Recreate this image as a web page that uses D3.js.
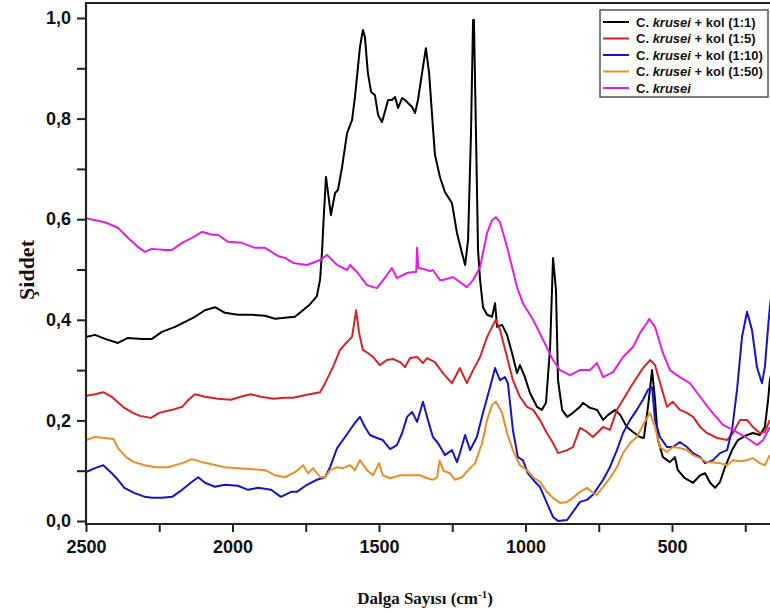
<!DOCTYPE html>
<html>
<head>
<meta charset="utf-8">
<script src="https://cdn.jsdelivr.net/npm/d3@7"></script>
<style>
  html, body { margin: 0; padding: 0; background: #fff; }
  svg { display: block; }
</style>
</head>
<body>
<svg id="chart" width="770" height="612"></svg>
<script>
// FTIR spectra: [wavenumber (cm-1), intensity]
const kol_1_1 = [[2500,0.366],[2469,0.370],[2435,0.362],[2391,0.354],[2357,0.364],[2309,0.362],[2275,0.362],[2241,0.376],[2196,0.386],[2162,0.396],[2128,0.406],[2094,0.419],[2060,0.425],[2026,0.414],[1981,0.410],[1933,0.410],[1889,0.408],[1855,0.402],[1821,0.404],[1787,0.406],[1770,0.414],[1735,0.431],[1712,0.447],[1701,0.48],[1694,0.54],[1689,0.60],[1681,0.684],[1664,0.608],[1650,0.652],[1640,0.658],[1626,0.704],[1609,0.771],[1592,0.797],[1582,0.843],[1565,0.942],[1555,0.976],[1548,0.962],[1538,0.891],[1527,0.853],[1514,0.847],[1503,0.807],[1490,0.793],[1480,0.813],[1469,0.837],[1456,0.837],[1445,0.843],[1435,0.821],[1421,0.841],[1411,0.837],[1401,0.831],[1387,0.823],[1377,0.811],[1367,0.837],[1353,0.891],[1340,0.940],[1329,0.891],[1316,0.783],[1309,0.728],[1292,0.684],[1275,0.654],[1251,0.632],[1234,0.573],[1217,0.533],[1206,0.509],[1196,0.559],[1186,0.771],[1179,0.996],[1176,0.996],[1169,0.771],[1162,0.539],[1155,0.479],[1145,0.425],[1131,0.410],[1114,0.406],[1104,0.433],[1097,0.386],[1080,0.390],[1063,0.370],[1046,0.334],[1029,0.294],[1019,0.310],[1002,0.286],[985,0.255],[961,0.227],[944,0.221],[930,0.235],[916,0.346],[906,0.523],[896,0.459],[889,0.280],[875,0.221],[858,0.207],[838,0.215],[814,0.227],[804,0.235],[780,0.225],[756,0.221],[735,0.201],[718,0.211],[694,0.221],[677,0.211],[654,0.187],[633,0.177],[609,0.167],[596,0.165],[582,0.227],[568,0.300],[558,0.241],[548,0.161],[531,0.127],[507,0.117],[490,0.127],[480,0.101],[456,0.085],[428,0.076],[404,0.091],[387,0.095],[370,0.076],[353,0.066],[336,0.078],[319,0.107],[295,0.141],[275,0.161],[244,0.171],[224,0.175],[200,0.171],[183,0.187],[172,0.241],[166,0.280],[150,0.32]];

const kol_1_5 = [[2500,0.249],[2469,0.252],[2441,0.256],[2412,0.247],[2374,0.227],[2340,0.215],[2316,0.209],[2278,0.205],[2250,0.215],[2206,0.221],[2172,0.227],[2150,0.241],[2128,0.252],[2094,0.247],[2050,0.243],[2005,0.241],[1972,0.247],[1938,0.252],[1904,0.247],[1859,0.243],[1825,0.245],[1793,0.245],[1746,0.251],[1701,0.256],[1684,0.274],[1657,0.306],[1633,0.340],[1609,0.356],[1592,0.366],[1578,0.419],[1568,0.374],[1555,0.340],[1538,0.334],[1520,0.326],[1497,0.310],[1473,0.320],[1452,0.322],[1428,0.316],[1411,0.306],[1394,0.324],[1370,0.326],[1350,0.314],[1336,0.324],[1309,0.316],[1282,0.294],[1251,0.274],[1224,0.304],[1200,0.274],[1179,0.300],[1155,0.326],[1131,0.366],[1114,0.386],[1101,0.400],[1087,0.380],[1063,0.326],[1043,0.280],[1019,0.247],[995,0.227],[974,0.221],[951,0.201],[927,0.175],[906,0.155],[889,0.135],[858,0.141],[838,0.147],[814,0.185],[790,0.177],[770,0.167],[756,0.175],[735,0.187],[712,0.181],[688,0.221],[667,0.241],[633,0.274],[599,0.304],[575,0.320],[558,0.310],[534,0.261],[517,0.227],[497,0.237],[473,0.221],[449,0.215],[428,0.207],[404,0.187],[381,0.175],[346,0.165],[312,0.161],[292,0.175],[268,0.201],[244,0.201],[224,0.187],[200,0.175],[183,0.177],[166,0.201]];

const kol_1_10 = [[2500,0.097],[2469,0.105],[2441,0.111],[2412,0.095],[2391,0.082],[2369,0.066],[2336,0.056],[2299,0.048],[2275,0.046],[2241,0.046],[2206,0.048],[2172,0.062],[2138,0.078],[2117,0.087],[2094,0.076],[2060,0.068],[2026,0.072],[1981,0.070],[1947,0.062],[1913,0.066],[1868,0.062],[1835,0.048],[1800,0.058],[1780,0.058],[1746,0.072],[1712,0.082],[1684,0.087],[1667,0.107],[1643,0.145],[1623,0.161],[1599,0.181],[1582,0.195],[1565,0.207],[1548,0.187],[1531,0.171],[1507,0.165],[1487,0.161],[1462,0.143],[1439,0.151],[1421,0.175],[1404,0.207],[1387,0.217],[1370,0.197],[1350,0.237],[1333,0.201],[1316,0.167],[1299,0.155],[1275,0.131],[1251,0.141],[1234,0.117],[1224,0.135],[1206,0.171],[1189,0.141],[1166,0.167],[1145,0.215],[1121,0.266],[1104,0.304],[1087,0.280],[1070,0.286],[1060,0.274],[1043,0.181],[1026,0.127],[1009,0.121],[992,0.095],[968,0.078],[951,0.068],[927,0.036],[906,0.008],[889,0.0],[858,0.002],[838,0.018],[814,0.038],[790,0.042],[770,0.052],[763,0.058],[735,0.082],[712,0.107],[688,0.141],[667,0.175],[643,0.201],[620,0.221],[599,0.241],[582,0.261],[568,0.266],[558,0.201],[541,0.167],[517,0.147],[497,0.147],[473,0.157],[449,0.147],[428,0.135],[404,0.127],[387,0.115],[360,0.121],[336,0.135],[312,0.141],[295,0.181],[278,0.261],[261,0.366],[244,0.416],[227,0.380],[210,0.306],[193,0.274],[183,0.306],[172,0.386],[166,0.425],[150,0.5]];

const kol_1_50 = [[2500,0.161],[2469,0.167],[2435,0.165],[2406,0.163],[2391,0.145],[2363,0.127],[2336,0.117],[2299,0.111],[2264,0.107],[2220,0.107],[2172,0.115],[2138,0.123],[2104,0.117],[2070,0.113],[2026,0.107],[1981,0.105],[1933,0.103],[1889,0.101],[1855,0.091],[1821,0.087],[1787,0.097],[1759,0.111],[1742,0.095],[1725,0.105],[1701,0.087],[1684,0.087],[1667,0.101],[1643,0.107],[1623,0.105],[1599,0.111],[1582,0.101],[1565,0.121],[1541,0.101],[1520,0.091],[1500,0.115],[1487,0.091],[1462,0.085],[1428,0.091],[1394,0.091],[1360,0.091],[1336,0.085],[1316,0.082],[1302,0.087],[1293,0.120],[1280,0.100],[1258,0.095],[1241,0.082],[1217,0.087],[1196,0.101],[1172,0.115],[1148,0.155],[1131,0.201],[1114,0.231],[1101,0.237],[1080,0.215],[1063,0.175],[1043,0.141],[1019,0.111],[995,0.101],[974,0.087],[951,0.078],[927,0.058],[906,0.046],[882,0.036],[858,0.038],[838,0.046],[814,0.058],[790,0.066],[770,0.056],[757,0.052],[735,0.068],[712,0.085],[688,0.107],[667,0.135],[643,0.155],[620,0.167],[599,0.191],[575,0.215],[558,0.187],[541,0.147],[517,0.137],[497,0.147],[473,0.145],[449,0.141],[428,0.131],[404,0.125],[381,0.117],[360,0.117],[336,0.115],[312,0.111],[292,0.121],[268,0.119],[244,0.121],[224,0.125],[200,0.115],[183,0.111],[166,0.131]];

const krusei = [[2500,0.602],[2435,0.594],[2391,0.583],[2357,0.563],[2323,0.545],[2299,0.535],[2275,0.541],[2230,0.539],[2206,0.539],[2172,0.553],[2138,0.563],[2104,0.575],[2070,0.569],[2050,0.569],[2015,0.555],[1968,0.553],[1923,0.543],[1889,0.543],[1845,0.527],[1820,0.523],[1793,0.513],[1746,0.509],[1701,0.519],[1677,0.529],[1643,0.509],[1609,0.499],[1599,0.509],[1575,0.495],[1541,0.469],[1507,0.463],[1473,0.489],[1456,0.503],[1439,0.483],[1404,0.493],[1384,0.495],[1373,0.495],[1370,0.543],[1366,0.503],[1360,0.503],[1326,0.497],[1316,0.499],[1292,0.479],[1282,0.479],[1247,0.485],[1200,0.465],[1179,0.479],[1155,0.505],[1131,0.573],[1114,0.598],[1101,0.604],[1087,0.594],[1063,0.545],[1029,0.465],[1009,0.433],[974,0.400],[940,0.360],[906,0.320],[882,0.300],[848,0.290],[814,0.300],[780,0.300],[756,0.314],[735,0.286],[701,0.296],[667,0.326],[633,0.346],[609,0.374],[585,0.394],[578,0.402],[558,0.386],[531,0.334],[507,0.300],[473,0.286],[439,0.274],[404,0.247],[370,0.221],[326,0.191],[292,0.181],[244,0.165],[210,0.151],[189,0.161],[166,0.187]];

const seriesNames = [
  ["C. ", "krusei", " + kol (1:1)"],
  ["C. ", "krusei", " + kol (1:5)"],
  ["C. ", "krusei", " + kol (1:10)"],
  ["C. ", "krusei", " + kol (1:50)"],
  ["C. ", "krusei", ""]
];
const seriesData = [kol_1_1, kol_1_5, kol_1_10, kol_1_50, krusei];
const seriesColors = ["#000000", "#d42424", "#1414c4", "#e88e28", "#e020e0"];

const xTicksMajor = [2500, 2000, 1500, 1000, 500];
const xTicksMinor = [2250, 1750, 1250, 750, 250];
const yTicksMajor = [0, 0.2, 0.4, 0.6, 0.8, 1.0];
const yTicksMinor = [0.1, 0.3, 0.5, 0.7, 0.9];

const svg = d3.select("#chart");
const W = 770;
const plot = { left: 86, top: 3, bottom: 524, right: 770 };

const x = d3.scaleLinear().domain([2500, 0]).range([86, 818.5]);
const y = d3.scaleLinear().domain([0, 1]).range([521, 18]);

svg.append("defs").append("clipPath").attr("id", "plotClip")
  .append("rect")
  .attr("x", plot.left).attr("y", plot.top)
  .attr("width", plot.right - plot.left).attr("height", plot.bottom - plot.top);

// spectra
const line = d3.line().x(d => x(d[0])).y(d => y(d[1])).curve(d3.curveLinear);
const g = svg.append("g").attr("clip-path", "url(#plotClip)");
seriesData.forEach((data, i) => {
  g.append("path")
    .datum(data)
    .attr("d", line)
    .attr("fill", "none")
    .attr("stroke", seriesColors[i])
    .attr("stroke-width", 2)
    .attr("stroke-linejoin", "round");
});

// frame
svg.append("path")
  .attr("d", `M${plot.right},${plot.top}H${plot.left}V${plot.bottom}H${plot.right}`)
  .attr("fill", "none").attr("stroke", "#222").attr("stroke-width", 2.2);

// x axis
const xAxis = d3.axisBottom(x).tickValues(xTicksMajor).tickSize(8).tickSizeOuter(0).tickPadding(8)
  .tickFormat(d3.format("d"));
const gx = svg.append("g").attr("transform", `translate(0,${plot.bottom})`).call(xAxis);
gx.select(".domain").remove();
gx.selectAll(".tick line").attr("stroke", "#222").attr("stroke-width", 2);
gx.selectAll(".tick text")
  .attr("font-family", "Liberation Sans, Arial, sans-serif")
  .attr("font-weight", "bold").attr("font-size", 18).attr("fill", "#111");
const gxm = svg.append("g").attr("transform", `translate(0,${plot.bottom})`)
  .call(d3.axisBottom(x).tickValues(xTicksMinor).tickSize(8).tickFormat(""));
gxm.select(".domain").remove();
gxm.selectAll(".tick line").attr("stroke", "#222").attr("stroke-width", 2);

// y axis
const commaFmt = d => d.toFixed(1).replace(".", ",");
const yAxis = d3.axisLeft(y).tickValues(yTicksMajor).tickSize(9).tickSizeOuter(0).tickPadding(6)
  .tickFormat(commaFmt);
const gy = svg.append("g").attr("transform", `translate(${plot.left},0)`).call(yAxis);
gy.select(".domain").remove();
gy.selectAll(".tick line").attr("stroke", "#222").attr("stroke-width", 2);
gy.selectAll(".tick text")
  .attr("font-family", "Liberation Sans, Arial, sans-serif")
  .attr("font-weight", "bold").attr("font-size", 18).attr("fill", "#111");
const gym = svg.append("g").attr("transform", `translate(${plot.left},0)`)
  .call(d3.axisLeft(y).tickValues(yTicksMinor).tickSize(9).tickFormat(""));
gym.select(".domain").remove();
gym.selectAll(".tick line").attr("stroke", "#222").attr("stroke-width", 2);

// axis titles
svg.append("text")
  .attr("transform", "translate(34,270) rotate(-90)")
  .attr("text-anchor", "middle")
  .attr("font-family", "Liberation Serif, Times New Roman, serif")
  .attr("font-weight", "bold").attr("font-size", 22).attr("fill", "#111")
  .text("Şiddet");

const xt = svg.append("text")
  .attr("x", 425).attr("y", 604)
  .attr("text-anchor", "middle")
  .attr("font-family", "Liberation Serif, Times New Roman, serif")
  .attr("font-weight", "bold").attr("font-size", 17).attr("fill", "#111");
xt.append("tspan").text("Dalga Sayısı (cm");
xt.append("tspan").attr("font-size", 11).attr("dy", -6).text("-1");
xt.append("tspan").attr("dy", 6).text(")");

// legend
const lg = svg.append("g");
lg.append("rect")
  .attr("x", 600).attr("y", 10).attr("width", 168).attr("height", 87)
  .attr("fill", "#fff").attr("stroke", "#555").attr("stroke-width", 1.5);
const rowY = [22, 38.5, 55, 71.5, 88];
seriesNames.forEach((parts, i) => {
  lg.append("line")
    .attr("x1", 603).attr("x2", 629).attr("y1", rowY[i]).attr("y2", rowY[i])
    .attr("stroke", seriesColors[i]).attr("stroke-width", 2);
  const t = lg.append("text")
    .attr("x", 636).attr("y", rowY[i]).attr("dy", "0.35em")
    .attr("font-family", "Liberation Sans, Arial, sans-serif")
    .attr("font-weight", "bold").attr("font-size", 13).attr("fill", "#111");
  t.append("tspan").text(parts[0]);
  t.append("tspan").attr("font-style", "italic").text(parts[1]);
  if (parts[2]) t.append("tspan").text(parts[2]);
});
</script>
</body>
</html>
